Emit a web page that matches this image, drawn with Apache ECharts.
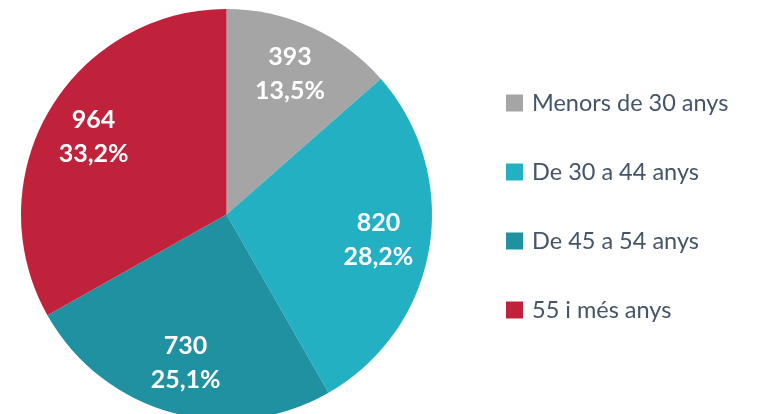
<!DOCTYPE html>
<html>
<head>
<meta charset="utf-8">
<script src="https://cdn.jsdelivr.net/npm/echarts@6/dist/echarts.min.js"></script>
<style>
  html, body { margin: 0; padding: 0; background: #fff; }
  #chart { width: 771px; height: 414px; }
</style>
</head>
<body>
<div id="chart"></div>
<script>
const categories = ['Menors de 30 anys', 'De 30 a 44 anys', 'De 45 a 54 anys', '55 i més anys'];
const values = [393, 820, 730, 964];
const colors = ['#A5A5A5', '#24B0C3', '#1F91A1', '#C0223B'];

const total = values.reduce((a, b) => a + b, 0);
const pieData = categories.map((name, i) => ({
    name: name,
    value: values[i],
    itemStyle: { color: colors[i] }
}));

const chart = echarts.init(document.getElementById('chart'), null, { renderer: 'canvas' });
chart.setOption({
    animation: false,
    legend: {
        orient: 'vertical',
        left: 501,
        top: 86,
        icon: 'rect',
        itemWidth: 17,
        itemHeight: 17,
        itemGap: 45,
        data: categories,
        selectedMode: false,
        textStyle: {
            color: '#44546A',
            fontFamily: 'Lato',
            fontSize: 23.5,
            lineHeight: 24,
            padding: [0, 0, 0, 4]
        }
    },
    series: [
        {
            type: 'pie',
            center: [226.5, 214.5],
            radius: 205.5,
            startAngle: 90,
            clockwise: true,
            silent: true,
            label: { show: false },
            labelLine: { show: false },
            data: pieData
        },
        {
            // transparent ring, only used to place the labels further out
            type: 'pie',
            center: [226.5, 214.5],
            radius: [96, 206],
            startAngle: 90,
            clockwise: true,
            silent: true,
            itemStyle: { color: 'rgba(0,0,0,0)' },
            labelLine: { show: false },
            label: {
                show: true,
                position: 'inside',
                color: '#fff',
                fontFamily: 'Lato',
                fontWeight: 'bold',
                fontSize: 25,
                lineHeight: 34,
                formatter: (p) => p.value + '\n' + (p.value / total * 100).toFixed(1).replace('.', ',') + '%'
            },
            data: categories.map((name, i) => ({ name: name, value: values[i] }))
        }
    ]
});
</script>
</body>
</html>
